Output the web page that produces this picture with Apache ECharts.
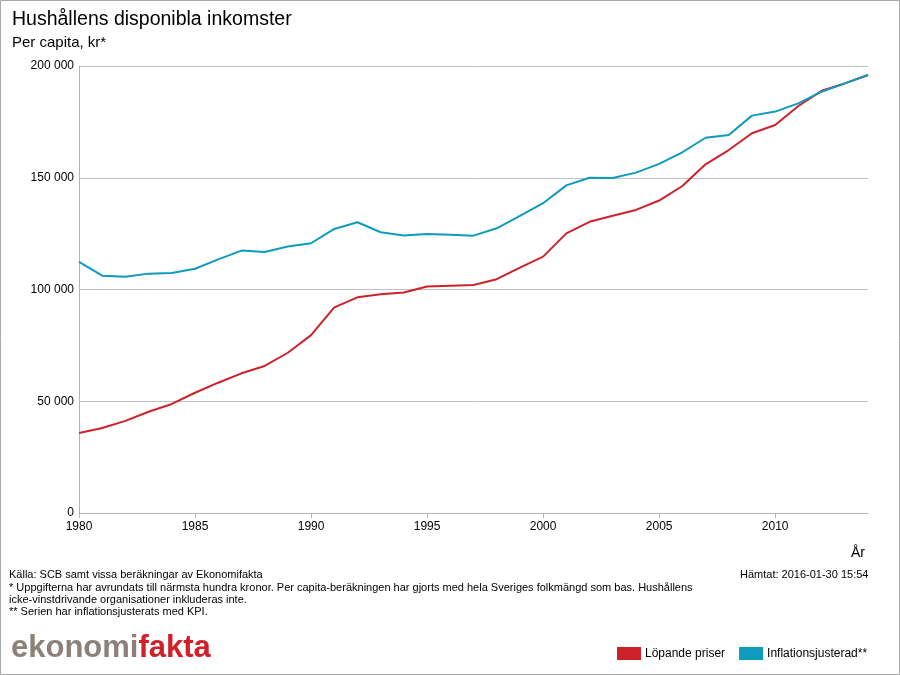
<!DOCTYPE html>
<html><head><meta charset="utf-8">
<script src="https://cdn.jsdelivr.net/npm/echarts@6/dist/echarts.min.js"></script>
<style>html,body{margin:0;padding:0;background:#fff}#c{width:900px;height:675px}</style>
</head><body><div id="c"></div>
<script>
const years = [1980,1981,1982,1983,1984,1985,1986,1987,1988,1989,1990,1991,1992,1993,1994,1995,1996,1997,1998,1999,2000,2001,2002,2003,2004,2005,2006,2007,2008,2009,2010,2011,2012,2013,2014];
const lopande = [35800,38000,41200,45300,48800,53800,58300,62500,65800,71700,79600,92000,96500,97900,98700,101300,101700,102000,104600,109800,114700,125100,130300,133000,135600,139800,146300,156000,162400,169900,173600,182100,188900,192200,196000];
const inflation = [112400,106200,105700,107100,107400,109300,113500,117400,116800,119200,120700,127100,130100,125600,124200,124800,124500,124100,127400,132900,138600,146600,150000,149900,152300,156200,161400,167900,169100,177800,179600,183300,188500,192200,196000];
const yTicks = [0,50000,100000,150000,200000];
const seriesNames = ['Löpande priser','Inflationsjusterad**'];

const RED = '#cc2229', BLUE = '#0e9bbd';
const FONT = '"Liberation Sans", Arial, sans-serif';
const chart = echarts.init(document.getElementById('c'), null, {renderer:'canvas'});
const fmt = v => String(v).replace(/\B(?=(\d{3})+(?!\d))/g, ' ');
chart.setOption({
  animation:false,
  textStyle:{fontFamily:FONT},
  grid:{left:79,right:32,top:66,bottom:162,containLabel:false},
  xAxis:{type:'value',min:1980,max:2014,interval:5,
    axisLine:{show:true,lineStyle:{color:'#b4b4b4',width:1}},
    axisTick:{show:true,length:5,lineStyle:{color:'#b4b4b4'}},
    splitLine:{show:false},
    axisLabel:{color:'#000',fontSize:12,fontFamily:FONT,margin:8,formatter:v=>String(v),showMaxLabel:false}
  },
  yAxis:{type:'value',min:yTicks[0],max:yTicks[yTicks.length-1],interval:50000,
    axisLine:{show:true,lineStyle:{color:'#b4b4b4',width:1}},
    axisTick:{show:false},
    splitLine:{show:true,lineStyle:{color:'#c0c0c0',width:1}},
    axisLabel:{color:'#000',fontSize:12,fontFamily:FONT,margin:5,formatter:fmt}
  },
  legend:{left:612,top:642,itemWidth:24,itemHeight:13,itemGap:14,icon:'rect',
    textStyle:{color:'#000',fontSize:12,fontFamily:FONT,padding:[0,0,0,-1]},
    data:seriesNames},
  series:[
    {name:seriesNames[0],type:'line',data:years.map((y,i)=>[y,lopande[i]]),showSymbol:false,
      lineStyle:{color:RED,width:2},itemStyle:{color:RED}},
    {name:seriesNames[1],type:'line',data:years.map((y,i)=>[y,inflation[i]]),showSymbol:false,
      lineStyle:{color:BLUE,width:2},itemStyle:{color:BLUE}}
  ],
  graphic:[
    {type:'rect',shape:{x:0.5,y:0.5,width:899,height:674},style:{fill:'none',stroke:'#a8a8a8',lineWidth:1},silent:true},
    {type:'text',left:12,top:10,style:{text:'Hushållens disponibla inkomster',font:'19.5px '+FONT,fill:'#000'}},
    {type:'text',left:12,top:35,style:{text:'Per capita, kr*',font:'15px '+FONT,fill:'#000'}},
    {type:'text',left:851,top:546,style:{text:'År',font:'14px '+FONT,fill:'#000'}},
    {type:'text',left:9,top:569,style:{text:'Källa: SCB samt vissa beräkningar av Ekonomifakta',font:'11px '+FONT,fill:'#000'}},
    {type:'text',left:9,top:582,style:{text:'* Uppgifterna har avrundats till närmsta hundra kronor. Per capita-beräkningen har gjorts med hela Sveriges folkmängd som bas. Hushållens',font:'11px '+FONT,fill:'#000'}},
    {type:'text',left:9,top:594,style:{text:'icke-vinstdrivande organisationer inkluderas inte.',font:'11px '+FONT,fill:'#000'}},
    {type:'text',left:9,top:606,style:{text:'** Serien har inflationsjusterats med KPI.',font:'11px '+FONT,fill:'#000'}},
    {type:'text',left:740,top:569,style:{text:'Hämtat: 2016-01-30 15:54',font:'11px '+FONT,fill:'#000'}},
    {type:'text',left:11,top:633,style:{rich:{a:{fontSize:31,fontFamily:FONT,fill:'#8c8078',fontWeight:'bold'},b:{fontSize:31,fontFamily:FONT,fill:'#d0202a',fontWeight:'bold'}},text:'{a|ekonomi}{b|fakta}'}}
  ]
});
</script></body></html>
